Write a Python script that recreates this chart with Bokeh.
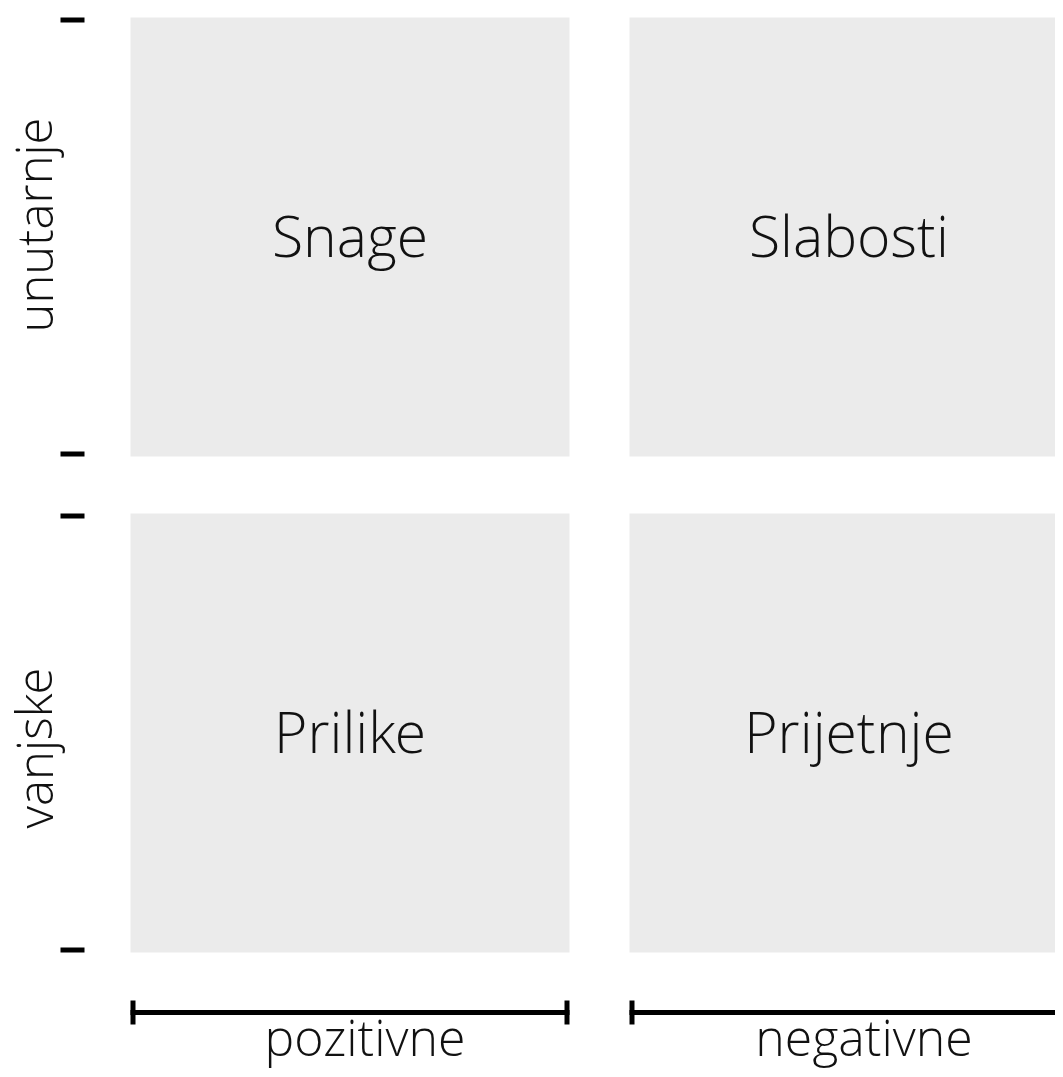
from bokeh.plotting import figure
from bokeh.models import Range1d, ColumnDataSource
from bokeh.core.properties import value
from bokeh.embed import file_html
from bokeh.resources import INLINE

# ---- data ----
cols = ["pozitivne", "negativne"]
rows = ["unutarnje", "vanjske"]
quad_labels = [["Snage", "Slabosti"], ["Prilike", "Prijetnje"]]

# ---- layout (picture pixels) ----
W, H = 1055, 1069
X0, CELL, GAPX = 130, 439, 60
Y0, GAPY = 17, 57
LW = 5
FONT = value("Open Sans Light")

def col_span(i):
    l = X0 + i * (CELL + GAPX)
    return l, l + CELL

def row_span(j):
    t = Y0 + j * (CELL + GAPY)
    return t, t + CELL

p = figure(width=W, height=H, x_range=Range1d(0, W), y_range=Range1d(H, 0),
           output_backend="svg", toolbar_location=None, min_border=0,
           x_axis_type=None, y_axis_type=None)
p.outline_line_color = None
p.grid.visible = False
p.background_fill_color = "white"
p.border_fill_color = "white"

# quadrants
q = dict(left=[], right=[], top=[], bottom=[], cx=[], cy=[], label=[])
for j, r in enumerate(rows):
    for i, c in enumerate(cols):
        l, rr = col_span(i)
        t, b = row_span(j)
        q["left"].append(l); q["right"].append(rr)
        q["top"].append(t); q["bottom"].append(b)
        q["cx"].append((l + rr) / 2); q["cy"].append((t + b) / 2)
        q["label"].append(quad_labels[j][i])
qs = ColumnDataSource(q)
p.quad(left="left", right="right", top="top", bottom="bottom", source=qs,
       fill_color="#ebebeb", line_color=None)
p.text(x="cx", y="cy", text="label", source=qs, text_align="center",
       text_baseline="alphabetic", y_offset=-2, text_font=FONT,
       text_font_size="57px", text_color="#111111")

# left ticks (row extents)
tk = dict(x0=[], x1=[], y=[])
for j in range(len(rows)):
    t, b = row_span(j)
    for yy in (t + LW / 2, b - LW / 2):
        tk["x0"].append(60); tk["x1"].append(84); tk["y"].append(yy)
p.segment(x0="x0", x1="x1", y0="y", y1="y", source=ColumnDataSource(tk),
          line_color="black", line_width=LW, line_cap="butt")

# bottom brackets (column extents)
BY = 1012
br = dict(x0=[], x1=[], y0=[], y1=[])
for i in range(len(cols)):
    l, rr = col_span(i)
    br["x0"].append(l); br["x1"].append(rr); br["y0"].append(BY); br["y1"].append(BY)
    for xx in (l + LW / 2, rr - LW / 2):
        br["x0"].append(xx); br["x1"].append(xx)
        br["y0"].append(BY - 12); br["y1"].append(BY + 12)
p.segment(x0="x0", x1="x1", y0="y0", y1="y1", source=ColumnDataSource(br),
          line_color="black", line_width=LW, line_cap="butt")

# column labels
cl = dict(x=[sum(col_span(i)) / 2 for i in range(len(cols))],
          y=[BY] * len(cols), text=cols)
p.text(x="x", y="y", text="text", source=ColumnDataSource(cl), text_align="center",
       text_baseline="alphabetic", x_offset=15, y_offset=24,
       text_font=FONT, text_font_size="50px", text_color="#111111")

# row labels (rotated)
row_off = [-12, 15]
rl = dict(x=[33] * len(rows), y=[sum(row_span(j)) / 2 + row_off[j] for j in range(len(rows))],
          text=rows)
p.text(x="x", y="y", text="text", source=ColumnDataSource(rl), angle=1.5708,
       text_align="center", text_baseline="middle",
       text_font=FONT, text_font_size="49px", text_color="#111111")

open("out.html", "w").write(file_html(p, INLINE))
